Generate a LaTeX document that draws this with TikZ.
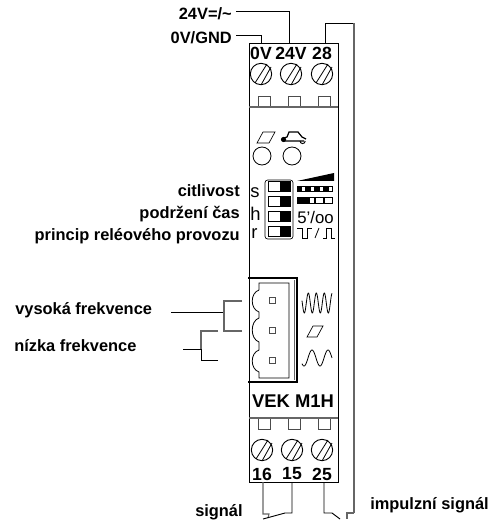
\documentclass[tikz,border=0pt]{standalone}
\usepackage{fontspec}
\setmainfont{Liberation Sans}
\usetikzlibrary{positioning}
\definecolor{wiregray}{gray}{0.4}
\tikzset{%
	lbl/.style={font=\bfseries\fontsize{12.3}{14}\selectfont, inner sep=0pt, text=black},
	termlbl/.style={font=\bfseries\fontsize{13.2}{15}\selectfont, inner sep=0pt},
	keylbl/.style={font=\fontsize{13.8}{15}\selectfont, inner sep=0pt},
	wire/.style={draw, line width=0.7pt},
	graywire/.style={draw=wiregray, line width=0.8pt},
	screw/.style={circle, draw, line width=0.7pt, minimum size=16pt, inner sep=0pt},
	lamp/.style={circle, draw, line width=0.6pt, minimum size=13.5pt, inner sep=0pt},
	pinbox/.style={draw=black!70, line width=0.7pt, minimum width=9pt, minimum height=8.2pt, inner sep=0pt},
	pindot/.style={draw=black!70, line width=0.6pt, minimum size=4.4pt, inner sep=0pt},
	dipbox/.style={draw, line width=0.6pt, minimum width=17pt, minimum height=7pt, inner sep=0pt},
	cell/.style={draw, line width=0.9pt, minimum width=6.4pt, minimum height=4.2pt, inner sep=0pt},
}

\begin{document}
\begin{tikzpicture}[x=0.75pt, y=-0.75pt]
	\useasboundingbox (0,0) rectangle (494,520);

	% Housing
	\coordinate (bodyTL) at (249,43);
	\coordinate (bodyBR) at (338,482);
	\draw[wire] (bodyTL) rectangle (bodyBR);
	\coordinate (sepA) at (249,107);
	\coordinate (sepB) at (338,107);
	\coordinate (sepC) at (249,418);
	\coordinate (sepD) at (338,418);

	% Terminals
	\foreach \name/\px/\txt in {a/261/0V, b/291/24V, c/322/28} {
		\node[termlbl] (top\name) at (\px,53) {\txt};
		\node[screw] (stop\name) at (\px,74) {};
		\draw[line width=0.6pt] (\px-6,83) -- (\px+6,64) (\px,85) -- (\px+10,67);
	}
	\foreach \name/\px in {a/264, b/294, c/324} {
		\node[pinbox] (ptop\name) at (\px,101.5) {};
		\node[pinbox] (pbot\name) at (\px,423.5) {};
	}
	\foreach \name/\px/\txt in {a/262/16, b/292/15, c/322/25} {
		\node[termlbl] (bot\name) at (\px,474) {\txt};
		\node[screw] (sbot\name) at (\px,450) {};
		\draw[line width=0.6pt] (\px-6,459) -- (\px+6,440) (\px,461) -- (\px+10,443);
	}
	\draw[graywire] (sepA) -- (sepB);
	\draw[graywire] (sepC) -- (sepD);
	\node[font=\bfseries\fontsize{13.8}{16}\selectfont, inner sep=0pt] (type) at (293,401) {VEK M1H};

	% Top wires
	\node[lbl, anchor=east] (lab24) at (232,14) {24V=/\textasciitilde};
	\node[lbl, anchor=east] (lab0) at (232,38) {0V/GND};
	\coordinate (w24a) at (236,11);
	\coordinate (w24b) at (289,43);
	\coordinate (w0a) at (236,35);
	\coordinate (w0b) at (261,43);
	\draw[wire] (w24a) -| (w24b);
	\draw[wire] (w0a) -| (w0b);
	\coordinate (w28a) at (325,43);
	\coordinate (w28b) at (354,23);
	\coordinate (w28c) at (354,513);
	\draw[wire] (w28a) |- (w28b);
	\draw[graywire] (w28b) -- (w28c);

	% Lamps with icons
	\node[lamp] (lampA) at (262,156) {};
	\node[lamp] (lampB) at (292,156) {};
	\draw[line width=0.5pt] (263,132) -- (275,132) -- (269,143) -- (257,143) -- cycle;
	\draw[line width=0.9pt] (284,138) -- (287,137) -- (289,132) -- (298,132) -- (302,137) -- (306,139) (283,141) -- (304,141);
	\fill (283.5,139.5) circle (2.6);
	\draw[line width=0.7pt] (300,141) arc (180:0:2.6);

	% DIP switches
	\draw[line width=0.5pt, rounded corners=2pt] (265,180) rectangle (293,239);
	\foreach \name/\py in {s/186.5, t/201.5, u/216.5, v/231.5} {
		\node[dipbox] (dip\name) at (279.5,\py) {};
		\fill (280,\py-4.5) rectangle (291,\py+4.5);
	}
	\node[keylbl, anchor=base west] (keyS) at (250,197) {s};
	\node[keylbl, anchor=base west] (keyH) at (250,220) {h};
	\node[keylbl, anchor=base west] (keyR) at (251,238) {r};
	\fill (297,181) -- (334,173) -- (334,181) -- cycle;
	\foreach \cx in {301.5,310.5,319.5,328.5} {
		\node[cell] (cellA\cx) at (\cx,189) {};
		\fill (\cx-4.5,186) rectangle (\cx,192);
		\node[cell] (cellB\cx) at (\cx,200.5) {};
	}
	\fill (297,197) rectangle (306,204);
	\fill (306,197) rectangle (310,204);
	\node[font=\fontsize{12.6}{14}\selectfont, inner sep=0pt, anchor=west] (time) at (297,217) {5'/oo};
	\draw[line width=0.6pt] (297,228) -- (302,228) -- (302,238) -- (307,238) -- (307,228) -- (312,228);
	\draw[line width=0.6pt] (315,238) -- (319,228);
	\draw[line width=0.6pt] (323,238) -- (326,238) -- (326,228) -- (331,228) -- (331,238) -- (335,238);

	% Connector block
	\draw[line width=1.5pt] (248,278) -- (297,278) -- (297,382) -- (248,382);
	\draw[line width=0.5pt, draw=black!60] (294.5,280) -- (294.5,380);
	\draw[line width=0.6pt] (259,290) -- (259,283) -- (289,283) -- (289,378) -- (259,378) -- (259,372)
		.. controls (250,369) and (250,353) .. (259,350) -- (259,342)
		.. controls (250,339) and (250,321) .. (259,318) -- (259,312)
		.. controls (250,309) and (250,293) .. (259,290);
	\foreach \name/\py in {a/300, b/330, c/360} {
		\node[pindot] (pin\name) at (272,\py) {};
	}
	\draw[line width=0.6pt] plot[domain=0:1, samples=90] ({302+30*\x},{303-10*sin(360*(30*\x-4.3)/8)});
	\draw[line width=0.5pt] (313,326) -- (323,326) -- (317,337) -- (307,337) -- cycle;
	\draw[line width=0.6pt] plot[domain=0:1, samples=60] ({302+30*\x},{358-8*sin(360*(30*\x-6)/16)});

	% Frequency lines
	\node[lbl, anchor=west] (high) at (15,310) {vysoká frekvence};
	\node[lbl, anchor=west] (low) at (14,346) {nízka frekvence};
	\coordinate (hiIn) at (171,312);
	\coordinate (hiMid) at (224,312);
	\coordinate (hiA) at (242,301);
	\coordinate (hiB) at (242,331);
	\draw[wire] (hiIn) -- (hiMid);
	\draw[graywire] (hiA) -| (hiMid);
	\draw[graywire] (hiB) -| (hiMid);
	\coordinate (loIn) at (183,349);
	\coordinate (loMid) at (201,349);
	\coordinate (loA) at (218,331);
	\coordinate (loB) at (218,360);
	\draw[wire] (loIn) -- (loMid);
	\draw[graywire] (loA) -| (loMid);
	\draw[wire] (loB) -| (loMid);

	% Function labels
	\node[lbl, anchor=east] (sens) at (240,191) {citlivost};
	\node[lbl, anchor=east] (hold) at (240,214) {podržení čas};
	\node[lbl, anchor=east] (mode) at (240,236) {princip reléového provozu};

	% Bottom wires
	\node[lbl, anchor=west] (sig) at (195,512) {signál};
	\node[lbl, anchor=west] (imp) at (370,505) {impulzní signál};
	\coordinate (w16a) at (263,482);
	\coordinate (w16b) at (263,514);
	\coordinate (w16c) at (269,514);
	\coordinate (w16d) at (268,518);
	\coordinate (w15a) at (292,482);
	\coordinate (w15b) at (292,513);
	\coordinate (w15c) at (285,513);
	\coordinate (w15d) at (263,519);
	\draw[graywire] (w16a) -- (w16b) -- (w16c) -- (w16d);
	\draw[wire] (w15a) -- (w15b) -- (w15c) -- (w15d);
	\coordinate (w25a) at (324,482);
	\coordinate (w25b) at (324,513);
	\coordinate (w25c) at (332,513);
	\coordinate (w25d) at (340,519);
	\coordinate (w28d) at (347,513);
	\coordinate (w28e) at (347,519);
	\draw[wire] (w25a) -- (w25b) -- (w25c) -- (w25d);
	\draw[graywire] (w28c) -- (w28d) -- (w28e);
\end{tikzpicture}
\end{document}
